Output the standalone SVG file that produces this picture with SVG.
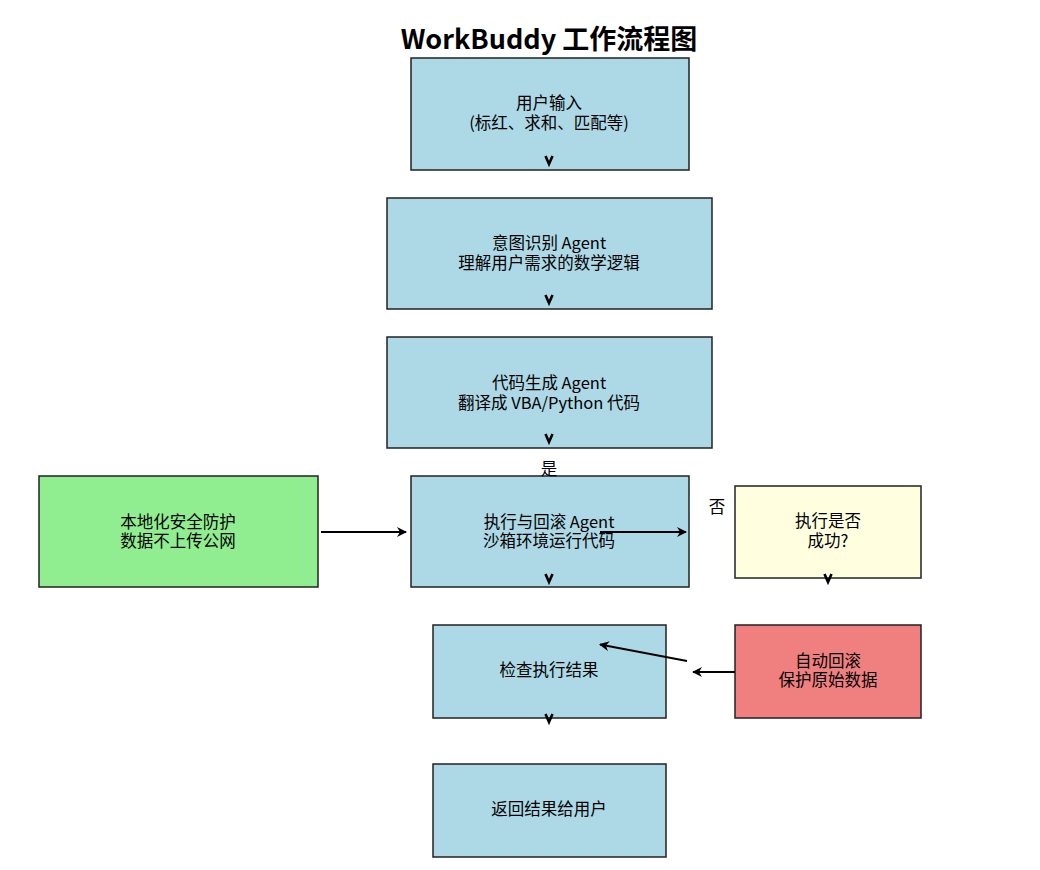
<svg xmlns="http://www.w3.org/2000/svg" width="1040" height="870" viewBox="0 0 1040 870">
<defs>
<style>
.n{stroke:#222;stroke-width:1.5}
.blue{fill:#ADD8E6}.green{fill:#90EE90}.yellow{fill:#FFFFE0}.red{fill:#F08080}
text{font-family:"Noto Sans CJK SC","Noto Sans",sans-serif;fill:#000;text-anchor:middle;dominant-baseline:central}
.t{font-size:16.5px}
.title{font-size:27px;font-weight:bold}
.c{fill:none;stroke:#000;stroke-width:2}
.v{fill:none;stroke:#000;stroke-width:2.6;stroke-linejoin:miter}
</style>
<marker id="ah" viewBox="0 0 10 10" refX="9" refY="5" markerWidth="5" markerHeight="5" orient="auto" markerUnits="strokeWidth">
<path d="M0,0 L10,5 L0,10 L3,5 Z" fill="#000"/>
</marker>
</defs>
<rect width="1040" height="870" fill="#fff"/>
<text class="title" x="549" y="37">WorkBuddy 工作流程图</text>

<g id="n1"><rect class="n blue" x="411" y="58" width="278" height="112"/><text class="t" x="549" y="102">用户输入</text><text class="t" x="549" y="122">(标红、求和、匹配等)</text></g>
<g id="n2"><rect class="n blue" x="387" y="198" width="325" height="111"/><text class="t" x="549" y="242">意图识别 Agent</text><text class="t" x="549" y="262">理解用户需求的数学逻辑</text></g>
<g id="n3"><rect class="n blue" x="387" y="337" width="325" height="111"/><text class="t" x="549" y="382">代码生成 Agent</text><text class="t" x="549" y="402">翻译成 VBA/Python 代码</text></g>
<g id="n4"><rect class="n blue" x="411" y="476" width="278" height="111"/><text class="t" x="549" y="521">执行与回滚 Agent</text><text class="t" x="549" y="540">沙箱环境运行代码</text></g>
<g id="n5"><rect class="n green" x="39" y="476" width="279" height="111"/><text class="t" x="178" y="521">本地化安全防护</text><text class="t" x="178" y="540">数据不上传公网</text></g>
<g id="n6"><rect class="n yellow" x="735" y="486" width="186" height="92"/><text class="t" x="828" y="520">执行是否</text><text class="t" x="828" y="540">成功?</text></g>
<g id="n7"><rect class="n red" x="735" y="625" width="186" height="93"/><text class="t" x="828" y="660">自动回滚</text><text class="t" x="828" y="679">保护原始数据</text></g>
<g id="n8"><rect class="n blue" x="433" y="625" width="233" height="93"/><text class="t" x="549" y="669">检查执行结果</text></g>
<g id="n9"><rect class="n blue" x="433" y="764" width="233" height="93"/><text class="t" x="549" y="808">返回结果给用户</text></g>

<g id="connectors">
<path class="v" d="M545.5,156 L549,164 L552.5,156"/>
<path class="v" d="M545.5,295 L549,303 L552.5,295"/>
<path class="v" d="M545.5,434 L549,442 L552.5,434"/>
<path class="v" d="M545.5,574 L549,582 L552.5,574"/>
<path class="v" d="M824.5,574 L828,582 L831.5,574"/>
<path class="v" d="M545.5,714 L549,722 L552.5,714"/>
<line class="c" x1="321" y1="532" x2="406" y2="532" marker-end="url(#ah)"/>
<line class="c" x1="600" y1="532" x2="686" y2="532" marker-end="url(#ah)"/>
<line class="c" x1="687" y1="661" x2="600" y2="644.5" marker-end="url(#ah)"/>
<line class="c" x1="735" y1="672" x2="693" y2="672" marker-end="url(#ah)"/>
<text class="t" x="549" y="468">是</text>
<text class="t" x="717" y="506">否</text>
</g>
</svg>
